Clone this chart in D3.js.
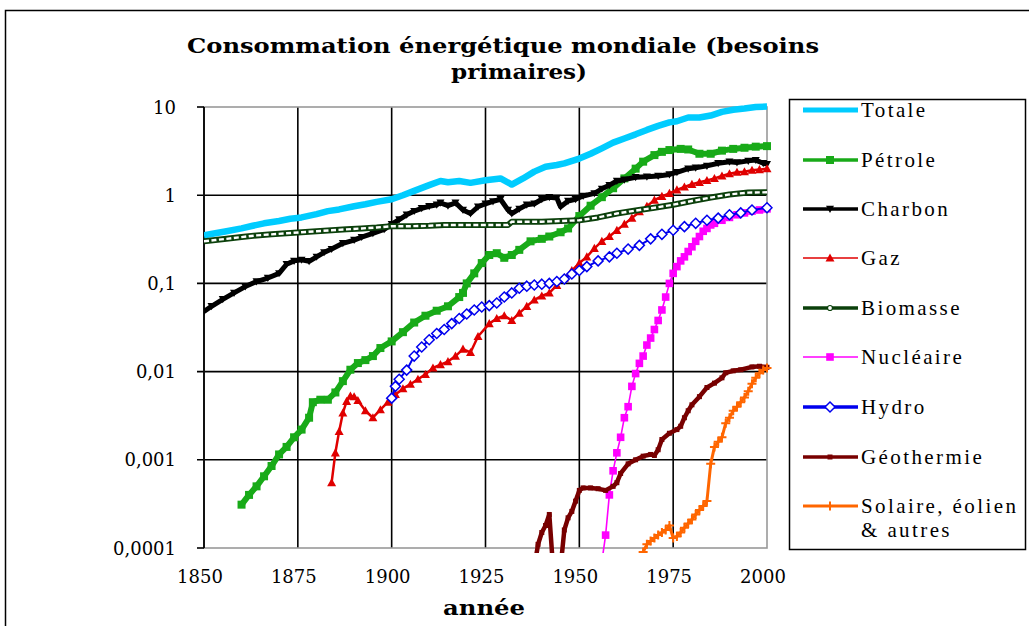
<!DOCTYPE html>
<html><head><meta charset="utf-8">
<script src="https://cdn.jsdelivr.net/npm/d3@7"></script>
<style>html,body{margin:0;padding:0;background:#fff;}svg{display:block;}</style>
</head><body>
<svg id="chart" width="1029" height="626"></svg>
<script>
const titleLines = ["Consommation énergétique mondiale (besoins", "primaires)"];
const xAxisTitle = "année";
const xTicks = [1850, 1875, 1900, 1925, 1950, 1975, 2000];
const yTicks = [0.0001, 0.001, 0.01, 0.1, 1, 10];
const yTickLabels = ["0,0001", "0,001", "0,01", "0,1", "1", "10"];
const seriesNames = ["Totale", "Pétrole", "Charbon", "Gaz", "Biomasse", "Nucléaire", "Hydro", "Géothermie", "Solaire, éolien & autres"];

const totale = [[1850,0.35],[1853,0.37],[1856,0.39],[1860,0.42],[1863,0.45],[1866,0.48],[1870,0.51],[1873,0.54],[1876,0.56],[1880,0.61],[1883,0.66],[1886,0.69],[1890,0.75],[1893,0.79],[1896,0.84],[1900,0.9],[1903,1.0],[1906,1.12],[1910,1.3],[1913,1.45],[1915,1.4],[1918,1.45],[1921,1.38],[1925,1.48],[1929,1.55],[1932,1.32],[1935,1.55],[1938,1.85],[1941,2.1],[1944,2.2],[1946,2.3],[1950,2.6],[1953,2.95],[1956,3.4],[1959,3.95],[1962,4.4],[1965,4.9],[1968,5.5],[1971,6.1],[1974,6.7],[1976,6.9],[1979,7.6],[1982,7.6],[1985,8.0],[1988,8.8],[1991,9.3],[1994,9.6],[1997,10.0],[2000,10.1]];
const petrole = [[1860,0.00031],[1862,0.0004],[1864,0.0005],[1866,0.00065],[1868,0.00085],[1870,0.00115],[1872,0.0014],[1874,0.0018],[1876,0.0022],[1878,0.003],[1879,0.0045],[1881,0.0048],[1883,0.0048],[1885,0.0058],[1887,0.0078],[1889,0.0105],[1891,0.0125],[1893,0.0135],[1895,0.015],[1897,0.0185],[1900,0.022],[1903,0.028],[1906,0.036],[1909,0.043],[1912,0.049],[1915,0.055],[1918,0.07],[1919,0.078],[1920,0.1],[1922,0.13],[1924,0.17],[1926,0.21],[1928,0.22],[1930,0.195],[1932,0.21],[1934,0.24],[1937,0.3],[1940,0.32],[1942,0.34],[1945,0.38],[1947,0.42],[1950,0.58],[1953,0.76],[1956,0.95],[1959,1.2],[1962,1.55],[1965,2.0],[1967,2.4],[1970,2.85],[1972,3.1],[1974,3.25],[1977,3.35],[1979,3.3],[1982,2.95],[1985,2.95],[1988,3.2],[1991,3.35],[1994,3.45],[1997,3.55],[2000,3.6]];
const charbon = [[1850,0.048],[1852,0.055],[1855,0.066],[1858,0.078],[1861,0.092],[1864,0.105],[1867,0.115],[1870,0.13],[1872,0.165],[1874,0.18],[1876,0.185],[1878,0.178],[1880,0.2],[1882,0.225],[1884,0.245],[1887,0.285],[1890,0.31],[1892,0.335],[1895,0.37],[1898,0.41],[1900,0.47],[1902,0.53],[1904,0.6],[1906,0.66],[1908,0.71],[1910,0.75],[1912,0.78],[1913,0.82],[1915,0.76],[1917,0.82],[1919,0.68],[1921,0.62],[1923,0.74],[1925,0.8],[1927,0.85],[1929,0.9],[1931,0.68],[1932,0.62],[1934,0.7],[1936,0.78],[1938,0.8],[1940,0.9],[1942,0.95],[1944,0.93],[1945,0.74],[1947,0.86],[1949,0.9],[1951,0.98],[1954,1.05],[1956,1.18],[1958,1.3],[1960,1.45],[1962,1.5],[1965,1.6],[1968,1.62],[1971,1.65],[1974,1.72],[1976,1.82],[1979,2.0],[1981,2.05],[1984,2.15],[1987,2.3],[1990,2.4],[1992,2.35],[1995,2.45],[1997,2.5],[1999,2.3],[2000,2.25]];
const gaz = [[1884,0.00055],[1885,0.0012],[1886,0.0021],[1887,0.0034],[1888,0.0046],[1889,0.0053],[1890,0.0052],[1891,0.0047],[1893,0.0036],[1895,0.003],[1897,0.0037],[1899,0.0045],[1901,0.0055],[1903,0.0064],[1905,0.0072],[1907,0.0082],[1909,0.0093],[1911,0.011],[1913,0.012],[1915,0.013],[1917,0.015],[1919,0.018],[1921,0.0165],[1923,0.025],[1926,0.035],[1928,0.04],[1930,0.043],[1932,0.038],[1934,0.046],[1936,0.055],[1938,0.065],[1940,0.072],[1942,0.078],[1944,0.095],[1946,0.115],[1948,0.14],[1950,0.17],[1952,0.2],[1954,0.25],[1956,0.3],[1958,0.34],[1960,0.4],[1962,0.47],[1964,0.55],[1966,0.65],[1968,0.75],[1970,0.88],[1972,0.97],[1974,1.05],[1976,1.15],[1978,1.24],[1980,1.33],[1982,1.4],[1984,1.47],[1986,1.55],[1988,1.65],[1990,1.75],[1992,1.82],[1994,1.85],[1996,1.92],[1998,1.95],[2000,2.0]];
const biomasse = [[1850,0.3],[1853,0.31],[1856,0.32],[1860,0.335],[1864,0.35],[1868,0.36],[1872,0.37],[1876,0.38],[1880,0.39],[1884,0.4],[1888,0.41],[1892,0.42],[1896,0.43],[1900,0.445],[1905,0.445],[1910,0.45],[1914,0.46],[1920,0.46],[1925,0.46],[1931,0.46],[1932,0.5],[1940,0.5],[1950,0.52],[1955,0.56],[1960,0.62],[1965,0.67],[1970,0.72],[1975,0.78],[1980,0.86],[1985,0.94],[1990,1.02],[1995,1.07],[2000,1.08]];
const nucleaire = [[1956,0.00007],[1957,0.00014],[1958,0.0004],[1959,0.00075],[1960,0.0012],[1961,0.0018],[1962,0.003],[1963,0.004],[1964,0.0068],[1965,0.0095],[1966,0.0124],[1967,0.015],[1968,0.02],[1969,0.024],[1970,0.03],[1971,0.038],[1972,0.05],[1973,0.07],[1974,0.1],[1975,0.13],[1976,0.155],[1977,0.18],[1978,0.2],[1979,0.23],[1980,0.26],[1981,0.3],[1982,0.34],[1983,0.39],[1984,0.42],[1985,0.46],[1986,0.48],[1988,0.52],[1990,0.56],[1992,0.6],[1994,0.63],[1996,0.66],[1998,0.68],[2000,0.7]];
const hydro = [[1900,0.005],[1901,0.0068],[1902,0.0082],[1904,0.0104],[1906,0.015],[1908,0.019],[1910,0.023],[1912,0.027],[1914,0.03],[1916,0.035],[1918,0.04],[1920,0.045],[1922,0.05],[1924,0.054],[1926,0.056],[1928,0.06],[1930,0.07],[1932,0.078],[1934,0.088],[1936,0.093],[1938,0.096],[1940,0.098],[1942,0.1],[1944,0.105],[1946,0.112],[1948,0.128],[1950,0.14],[1952,0.155],[1955,0.18],[1958,0.2],[1960,0.22],[1963,0.245],[1966,0.27],[1969,0.32],[1972,0.36],[1975,0.4],[1978,0.44],[1981,0.48],[1984,0.52],[1987,0.55],[1990,0.6],[1993,0.63],[1996,0.68],[2000,0.72]];
const geothermie = [[1938,0.00006],[1939,0.00011],[1940,0.00015],[1941,0.00018],[1942,0.00024],[1943,0.00006],[1944,0.00004],[1945,0.00006],[1946,0.00016],[1947,0.00022],[1948,0.00026],[1949,0.00034],[1950,0.00045],[1951,0.00048],[1953,0.00048],[1955,0.00047],[1957,0.00045],[1959,0.0005],[1960,0.00055],[1961,0.0007],[1963,0.0009],[1965,0.001],[1967,0.0011],[1969,0.00115],[1970,0.00112],[1971,0.0013],[1972,0.0017],[1974,0.002],[1976,0.0022],[1977,0.0024],[1978,0.003],[1979,0.0036],[1980,0.0042],[1982,0.0052],[1984,0.0066],[1986,0.0074],[1988,0.0085],[1989,0.0097],[1991,0.0102],[1993,0.0105],[1996,0.0113],[1998,0.0115],[2000,0.0112]];
const solaire = [[1967,0.00009],[1968,0.00011],[1969,0.00012],[1970,0.00013],[1971,0.00014],[1972,0.00015],[1973,0.00016],[1974,0.00018],[1975,0.00013],[1976,0.000135],[1977,0.00015],[1978,0.00017],[1979,0.00019],[1980,0.00021],[1981,0.00024],[1982,0.00027],[1983,0.0003],[1984,0.00034],[1985,0.0009],[1986,0.0014],[1987,0.0016],[1988,0.0018],[1989,0.0026],[1990,0.003],[1991,0.0036],[1992,0.004],[1993,0.0045],[1994,0.0051],[1995,0.006],[1996,0.0073],[1997,0.0085],[1998,0.0096],[1999,0.0104],[2000,0.011]];

const seriesData = [totale, petrole, charbon, gaz, biomasse, nucleaire, hydro, geothermie, solaire];

const styles = [
  {color:"#00ccff", width:6.5, marker:null},
  {color:"#18aa18", width:6, marker:"square", ms:4, fill:"#18aa18"},
  {color:"#000000", width:5, marker:"triDown", ms:4, fill:"#000"},
  {color:"#e00000", width:2.5, marker:"triUp", ms:4.5, fill:"#e00000"},
  {color:"#0b400b", width:6, marker:null, hollow:true},
  {color:"#ff00ff", width:1.6, marker:"square", ms:3.8, fill:"#ff00ff"},
  {color:"#0000ee", width:2, marker:"diamond", ms:5, fill:"#fff", mstroke:1.5},
  {color:"#780000", width:4.5, marker:"square", ms:2.5, fill:"#780000"},
  {color:"#ff6600", width:3, marker:"plus", ms:4.5, fill:"none", mstroke:2}
];

function markerPath(t, s){
  switch(t){
    case "square": return `M${-s},${-s}h${2*s}v${2*s}h${-2*s}Z`;
    case "triUp": return `M0,${-s}L${s},${s*0.8}L${-s},${s*0.8}Z`;
    case "triDown": return `M0,${s}L${s},${-s*0.8}L${-s},${-s*0.8}Z`;
    case "diamond": return `M0,${-s}L${s},0L0,${s}L${-s},0Z`;
    case "plus": return `M${-s},0H${s}M0,${-s}V${s}`;
    case "circle": return `M${-s},0A${s},${s} 0 1,0 ${s},0A${s},${s} 0 1,0 ${-s},0Z`;
  }
  return "";
}

const svg = d3.select("#chart");
const L = 204, R = 767, T = 107, B = 548;
const x = d3.scaleLinear().domain([1850, 2000]).range([L, R]);
const y = d3.scaleLog().domain([0.0001, 10]).range([B, T]);

svg.append("rect").attr("width",1029).attr("height",626).attr("fill","#fff");
svg.append("rect").attr("x",5.5).attr("y",10.5).attr("width",1100).attr("height",700)
  .attr("fill","none").attr("stroke","#000").attr("stroke-width",1.5);

svg.append("text").attr("x",503).attr("y",53).attr("text-anchor","middle")
  .attr("font-family","DejaVu Serif").attr("font-weight","bold").attr("font-size",20)
  .attr("textLength",632).attr("lengthAdjust","spacingAndGlyphs").text(titleLines[0]);
svg.append("text").attr("x",519).attr("y",79).attr("text-anchor","middle")
  .attr("font-family","DejaVu Serif").attr("font-weight","bold").attr("font-size",20)
  .attr("textLength",136).attr("lengthAdjust","spacingAndGlyphs").text(titleLines[1]);

const g = svg.append("g");
g.selectAll(".hg").data(yTicks.filter(v => v > 0.0001 && v < 10)).enter().append("line")
  .attr("x1", L-7).attr("x2", R).attr("y1", d => y(d)).attr("y2", d => y(d))
  .attr("stroke","#000").attr("stroke-width",1.6);
g.selectAll(".vg").data(xTicks.filter(v => v > 1850 && v < 2000)).enter().append("line")
  .attr("x1", d => x(d)).attr("x2", d => x(d)).attr("y1", T).attr("y2", B)
  .attr("stroke","#000").attr("stroke-width",1.6);
g.append("rect").attr("x",L).attr("y",T).attr("width",R-L).attr("height",B-T)
  .attr("fill","none").attr("stroke","#999").attr("stroke-width",1.6);
g.selectAll(".et").data([0.0001, 10]).enter().append("line")
  .attr("x1", L-7).attr("x2", L).attr("y1", d => y(d)).attr("y2", d => y(d))
  .attr("stroke","#000").attr("stroke-width",1.6);
g.append("line").attr("x1",L).attr("x2",L).attr("y1",T).attr("y2",B).attr("stroke","#000").attr("stroke-width",1.8);

svg.selectAll(".yl").data(yTicks).enter().append("text")
  .attr("x", 176).attr("y", d => y(d) + 6.5).attr("text-anchor","end")
  .attr("font-family","DejaVu Serif").attr("font-size",18).attr("fill","#000")
  .text((d,i) => yTickLabels[i]);
svg.selectAll(".xl").data(xTicks).enter().append("text")
  .attr("x", d => x(d) - 4).attr("y", 583).attr("text-anchor","middle")
  .attr("font-family","DejaVu Serif").attr("font-size",18).attr("fill","#000")
  .text(d => d);
svg.append("text").attr("x",484).attr("y",615).attr("text-anchor","middle")
  .attr("font-family","DejaVu Serif").attr("font-weight","bold").attr("font-size",20)
  .attr("textLength",82).attr("lengthAdjust","spacingAndGlyphs").text(xAxisTitle);

svg.append("clipPath").attr("id","clip").append("rect")
  .attr("x", L).attr("y", T-4).attr("width", R-L+6).attr("height", B-T+9);
const plot = svg.append("g").attr("clip-path","url(#clip)");
const line = d3.line().x(d => x(d[0])).y(d => y(d[1]));

seriesData.forEach((data, i) => {
  const st = styles[i];
  const gs = plot.append("g");
  gs.append("path").datum(data).attr("d", line).attr("fill","none")
    .attr("stroke", st.color).attr("stroke-width", st.width).attr("stroke-linejoin","round");
  if (st.hollow) {
    gs.append("path").datum(data).attr("d", line).attr("fill","none")
      .attr("stroke", "#fff").attr("stroke-width", 2.4).attr("stroke-dasharray","5,2.5");
  }
  if (st.marker) {
    gs.selectAll("path.m").data(data).enter().append("path").attr("class","m")
      .attr("transform", d => `translate(${x(d[0])},${y(d[1])})`)
      .attr("d", markerPath(st.marker, st.ms))
      .attr("fill", st.fill).attr("stroke", st.marker === "plus" || st.mstroke ? st.color : "none")
      .attr("stroke-width", st.mstroke || 0);
  }
});

const lg = svg.append("g");
lg.append("rect").attr("x",789.5).attr("y",99.5).attr("width",236).attr("height",450)
  .attr("fill","#fff").attr("stroke","#000").attr("stroke-width",1.5);
const legendY = [110, 160, 209, 258, 308, 357, 407, 457, 506];
const legendLineW = [5, 3.5, 3.5, 1.6, 3.5, 1.6, 3.5, 3.5, 3];
seriesNames.forEach((name, i) => {
  const st = styles[i];
  const cy = legendY[i];
  lg.append("line").attr("x1",803).attr("x2",858).attr("y1",cy).attr("y2",cy)
    .attr("stroke", st.color).attr("stroke-width", legendLineW[i]);
  if (st.hollow) {
    lg.append("path").attr("transform",`translate(830,${cy})`).attr("d", markerPath("circle", 2.5))
      .attr("fill","#fff").attr("stroke", st.color).attr("stroke-width",1.2);
  }
  if (st.marker) {
    lg.append("path").attr("transform",`translate(830,${cy})`).attr("d", markerPath(st.marker, st.ms))
      .attr("fill", st.fill).attr("stroke", st.marker === "plus" || st.mstroke ? st.color : "none")
      .attr("stroke-width", st.mstroke || 0);
  }
  const parts = name === "Solaire, éolien & autres" ? ["Solaire, éolien", "& autres"] : [name];
  parts.forEach((p, k) => {
    lg.append("text").attr("x",861).attr("y", cy + 7 + k*24)
      .attr("font-family","Liberation Serif").attr("font-size",21).attr("letter-spacing","2.4px")
      .attr("fill","#000").text(p);
  });
});
</script>
</body></html>
